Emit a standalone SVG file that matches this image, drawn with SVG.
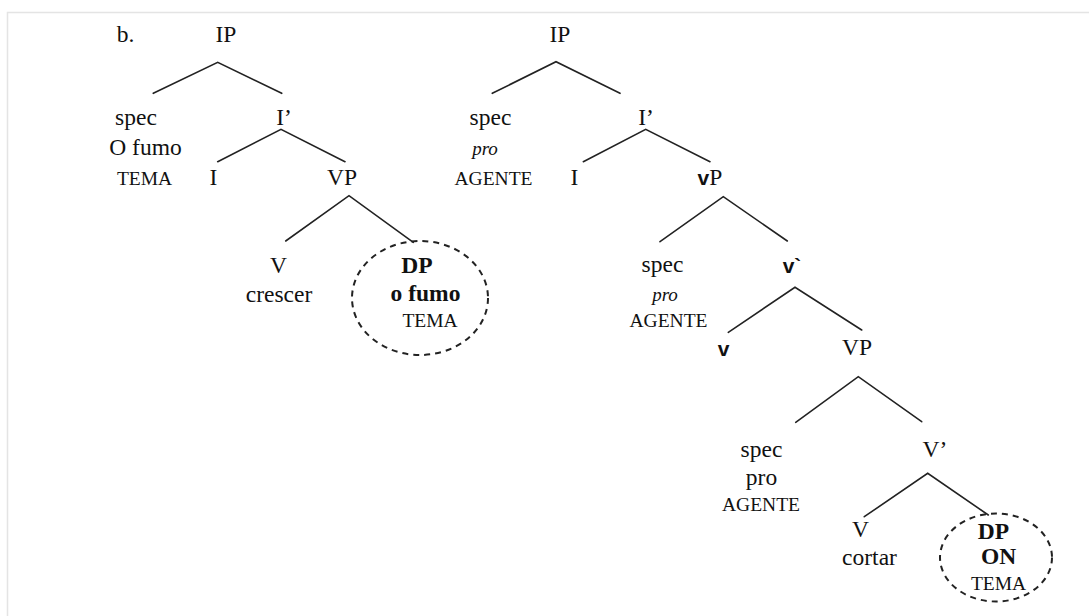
<svg xmlns="http://www.w3.org/2000/svg" width="1089" height="616" viewBox="0 0 1089 616">
<style>
text{font-family:"Liberation Serif","Times New Roman",serif;fill:#111;text-anchor:middle}
.m{font-size:23.5px}
.s{font-size:19.5px}
.i{font-style:italic;font-size:19px}
.b{font-weight:bold}
.v{font-family:"Liberation Sans",Arial,sans-serif;font-weight:bold;font-size:21px}
.e{stroke:#222;stroke-width:1.6;fill:none;stroke-linecap:round}
.c{stroke:#222;stroke-width:2;fill:none;stroke-dasharray:6 5}
</style>
<rect x="0" y="0" width="1089" height="616" fill="#fff"/>
<path d="M7.5 616 V12.5 H1089" stroke="#e4e4e4" stroke-width="1.5" fill="none"/>
<g id="label-b"><text class="m" x="125.5" y="42">b.</text></g>
<g id="connectors">
<path class="e" d="M153.3 93.3 L217.7 62.3 L281.7 93.3"/>
<path class="e" d="M217.7 161.7 L281 129.3 L345 161.7"/>
<path class="e" d="M285.7 241 L349 195.7 L413.3 242.3"/>
<path class="e" d="M492.3 93.3 L556 61.7 L620 93.3"/>
<path class="e" d="M583.3 161.7 L645.7 129.3 L710 161.7"/>
<path class="e" d="M660 241.7 L723.3 196.7 L787.3 241"/>
<path class="e" d="M728.3 332.3 L795 287.3 L861.7 330"/>
<path class="e" d="M795.7 422.3 L858.3 376.7 L921.7 421.7"/>
<path class="e" d="M864.3 516.7 L927.7 473.3 L988.3 515"/>
</g>
<g id="l-IP"><text class="m" x="226" y="42">IP</text></g>
<g id="l-spec"><text class="m" x="136" y="125">spec</text><text class="m" x="145.5" y="155">O fumo</text><text class="s" x="144.5" y="185">TEMA</text></g>
<g id="l-Ibar"><text class="m" x="284" y="125">I’</text></g>
<g id="l-I"><text class="m" x="213.5" y="185">I</text></g>
<g id="l-VP"><text class="m" x="342" y="185">VP</text></g>
<g id="l-V"><text class="m" x="278.5" y="272.5">V</text><text class="m" x="279" y="301.5">crescer</text></g>
<g id="l-DP"><ellipse class="c" cx="420" cy="298" rx="68" ry="57"/><text class="m b" x="417" y="272.5">DP</text><text class="m b" x="425.5" y="301">o fumo</text><text class="s" x="430" y="326.5">TEMA</text></g>
<g id="r-IP"><text class="m" x="560" y="42">IP</text></g>
<g id="r-spec1"><text class="m" x="490.5" y="125">spec</text><text class="i" x="485" y="155">pro</text><text class="s" x="493.5" y="185">AGENTE</text></g>
<g id="r-Ibar"><text class="m" x="646" y="125">I’</text></g>
<g id="r-I"><text class="m" x="574.5" y="185">I</text></g>
<g id="r-vP"><text x="710" y="185"><tspan class="v" font-size="21">v</tspan><tspan class="m">P</tspan></text></g>
<g id="r-spec2"><text class="m" x="662.5" y="271.5">spec</text><text class="i" x="665" y="301">pro</text><text class="s" x="668.5" y="326.5">AGENTE</text></g>
<g id="r-vbar"><text class="v" x="792" y="272.5">v`</text></g>
<g id="r-v"><text class="v" x="723.5" y="355.5">v</text></g>
<g id="r-VP"><text class="m" x="857" y="355">VP</text></g>
<g id="r-spec3"><text class="m" x="761.5" y="456.5">spec</text><text class="m" x="761.5" y="485">pro</text><text class="s" x="761" y="510.5">AGENTE</text></g>
<g id="r-Vbar"><text class="m" x="935" y="456.5">V’</text></g>
<g id="r-V"><text class="m" x="860.5" y="536.5">V</text><text class="m" x="869.5" y="565">cortar</text></g>
<g id="r-DP"><ellipse class="c" cx="996" cy="557.5" rx="56" ry="44"/><text class="m b" x="993.5" y="538.5">DP</text><text class="m b" x="998.5" y="564">ON</text><text class="s" x="998.5" y="590">TEMA</text></g>
</svg>
